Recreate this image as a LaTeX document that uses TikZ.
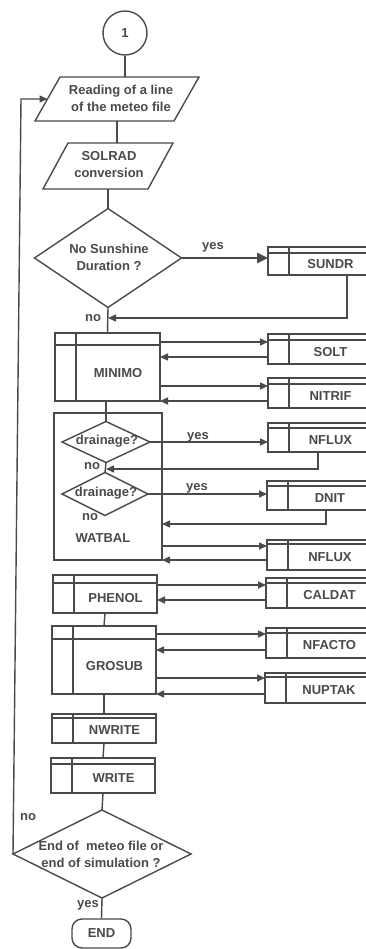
\documentclass[tikz,border=0pt]{standalone}
\usepackage{fontspec}
\setmainfont{Liberation Sans}
\usetikzlibrary{shapes.geometric,arrows.meta,calc}
\definecolor{ln}{HTML}{4A4A4A}
\tikzset{
  subbox/.style={draw=ln, line width=1.4pt, rectangle, inner sep=0pt, outer sep=0pt},
  txt/.style={font=\fontsize{13}{17}\selectfont\bfseries, text=ln, align=center, inner sep=0pt},
  arr/.style={-{Triangle[length=8pt,width=7pt]}},
  boldarr/.style={line width=2.6pt, -{Triangle[length=11pt,width=10pt]}},
  dia/.style={draw=ln, diamond, inner sep=0pt, outer sep=0pt},
  plain/.style={inner sep=0pt, outer sep=0pt},
}
% name, left, top, right, bottom, band, text
\newcommand\mysub[7]{%
  \node[subbox, minimum width={(#4-#2)*1pt}, minimum height={(#5-#3)*1pt}, anchor=north west] (#1) at (#2,#3) {};
  \draw ([yshift=-#6pt]#1.north west) -- ([yshift=-#6pt]#1.north east);
  \draw ([xshift=21pt]#1.north west) -- ([xshift=21pt]#1.south west);
  \node[txt] (#1-t) at ({(#2+21+#4)/2},{(#3+#6+#5)/2}) {#7};
}
\begin{document}
\begin{tikzpicture}[x=1pt, y=-1pt, line width=1.4pt, color=ln]
\useasboundingbox (0,0) rectangle (366,949);
\clip (0,0) rectangle (366,949);
\fill[white] (0,0) rectangle (366,949);

% start connector
\node[circle, draw, minimum size=44pt, inner sep=0pt, txt] (c1) at (125,33) {1};

% parallelograms
\node[plain, minimum width=164pt, minimum height=44pt] (read) at (117,99) {};
\draw ([xshift=25pt]read.north west) -- (read.north east) -- ([xshift=-25pt]read.south east) -- (read.south west) -- cycle;
\node[txt] (read-t) at (121,98) {Reading of a line\\of the meteo file};

\node[plain, minimum width=130pt, minimum height=46pt] (solrad) at (108,166) {};
\draw ([xshift=25pt]solrad.north west) -- (solrad.north east) -- ([xshift=-25pt]solrad.south east) -- (solrad.south west) -- cycle;
\node[txt] (solrad-t) at (109,165) {SOLRAD\\conversion};

% first decision
\node[dia, minimum width=147pt, minimum height=99pt] (d1) at (108,258) {};
\node[txt] (d1-t) at (109,257) {No Sunshine\\Duration ?};

\mysub{sundr}{268}{247}{372}{275}{6}{SUNDR}
\mysub{minimo}{55}{333}{160}{401}{12}{MINIMO}
\mysub{solt}{268}{334}{372}{364}{6}{SOLT}
\mysub{nitrif}{268}{378}{372}{408}{6}{NITRIF}

% WATBAL block
\node[subbox, minimum width=108pt, minimum height=147pt, anchor=north west] (watbal) at (54,413) {};
\node[txt] (watbal-t) at (103,538) {WATBAL};
\node[dia, minimum width=88pt, minimum height=41pt] (dr1) at (106,442) {};
\node[txt] (dr1-t) at (107,441) {drainage?};
\node[dia, minimum width=86pt, minimum height=43pt] (dr2) at (105,494) {};
\node[txt] (dr2-t) at (106,493) {drainage?};
\mysub{nflux1}{268}{423}{372}{452}{5}{NFLUX}
\mysub{dnit}{267}{481}{372}{510}{5}{DNIT}
\mysub{nflux2}{267}{540}{372}{570}{4}{NFLUX}

\mysub{phenol}{53}{575}{157}{613}{8}{PHENOL}
\mysub{caldat}{266}{578}{372}{608}{5}{CALDAT}
\mysub{grosub}{52}{626}{156}{694}{13}{GROSUB}
\mysub{nfacto}{266}{628}{372}{658}{5}{NFACTO}
\mysub{nuptak}{265}{673}{372}{703}{4}{NUPTAK}
\mysub{nwrite}{52}{714}{156}{743}{4}{NWRITE}
\mysub{write}{51}{758}{155}{793}{6}{WRITE}

% final decision and end
\node[dia, minimum width=178pt, minimum height=88pt] (d3) at (102,854) {};
\node[txt] (d3-t) at (101,854) {End of\ \ meteo file or\\end of simulation ?};
\node[draw, rounded corners=10pt, minimum width=59pt, minimum height=29pt, inner sep=0pt, txt] (end) at (101.5,933.5) {END};

% labels
\node[txt] (l-yes1) at (213,247) {yes};
\node[txt] (l-no1) at (93,318) {no};
\node[txt] (l-yes2) at (198,437) {yes};
\node[txt] (l-no2) at (92,466) {no};
\node[txt] (l-yes3) at (197,488) {yes};
\node[txt] (l-no3) at (90,517) {no};
\node[txt] (l-no4) at (28,817) {no};
\node[txt] (l-yes4) at (88,905) {yes};

% main flow connectors
\draw (c1.south) -- (c1.south |- read.north);
\draw (read.south) -- (read.south |- solrad.north);
\draw (solrad.south) -- (d1.north);
\draw[boldarr] (d1.east) -- (d1.east -| sundr.west);
\coordinate (j1) at (108,318);
\draw[arr] ([xshift=79pt]sundr.south west) |- (j1);
\draw (d1.south) -- (minimo.north);

\draw[arr] ([yshift=-9pt]minimo.north east) -- ([yshift=-8pt]solt.north west);
\draw[arr] ([yshift=-23pt]solt.north west) -- ([yshift=-24pt]minimo.north east);
\draw[arr] ([yshift=-53pt]minimo.north east) -- ([yshift=-8pt]nitrif.north west);
\draw[arr] ([yshift=-23pt]nitrif.north west) -- (minimo.south east);

\draw (dr1.north |- minimo.south) -- (dr1.north);
\draw[arr] (dr1.east) -- (dr1.east -| nflux1.west);
\coordinate (j2) at (106,469);
\draw[arr] ([xshift=50pt]nflux1.south west) |- (j2);
\draw (dr1.south) -- (dr2.north);
\draw[arr] (dr2.east) -- (dr2.east -| dnit.west);
\draw[arr] ([xshift=59pt]dnit.south west) |- ([yshift=-111pt]watbal.north east);
\draw[arr] ([yshift=-133pt]watbal.north east) -- ([yshift=-6pt]nflux2.north west);
\draw[arr] ([yshift=-20pt]nflux2.north west) -- (watbal.south east);

\draw[arr] ([yshift=-10pt]phenol.north east) -- ([yshift=-7pt]caldat.north west);
\draw[arr] ([yshift=-22pt]caldat.north west) -- ([yshift=-25pt]phenol.north east);
\draw (phenol.south) -- (grosub.north);
\draw[arr] ([yshift=-8pt]grosub.north east) -- ([yshift=-6pt]nfacto.north west);
\draw[arr] ([yshift=-22pt]nfacto.north west) -- ([yshift=-24pt]grosub.north east);
\draw[arr] ([yshift=-52pt]grosub.north east) -- ([yshift=-5pt]nuptak.north west);
\draw[arr] ([yshift=-21pt]nuptak.north west) -- (grosub.south east);
\draw (grosub.south) -- (nwrite.north);
\draw (nwrite.south) -- (write.north);
\draw (write.south) -- (d3.north);

% loop back and end
\draw[arr] (d3.west) -- ([xshift=8pt]d3.west |- read.west) -- ([xshift=12.5pt]read.west);
\draw (d3.south) -- (end.north);
\end{tikzpicture}
\end{document}
